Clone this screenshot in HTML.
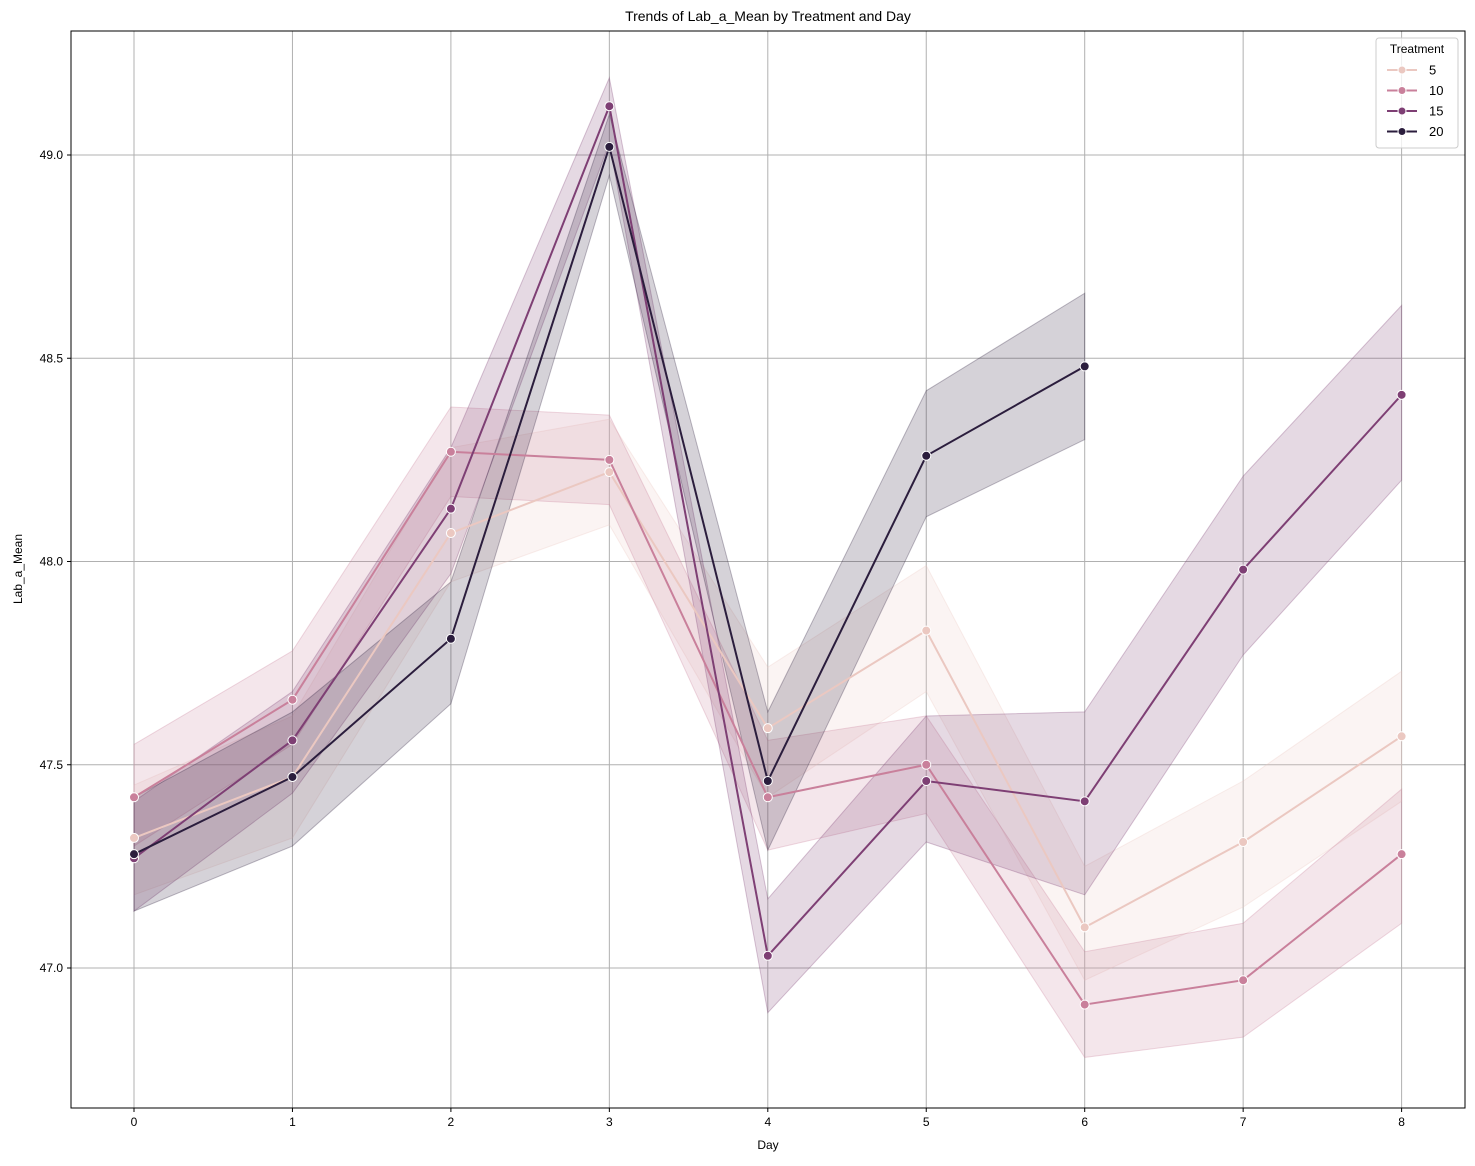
<!DOCTYPE html>
<html><head><meta charset="utf-8"><style>
body{margin:0;background:#fff;font-family:"Liberation Sans","DejaVu Sans",sans-serif}
</style></head><body>
<svg id="chart" width="1475" height="1161" xmlns="http://www.w3.org/2000/svg" font-family="Liberation Sans, DejaVu Sans, sans-serif">
<rect width="1475" height="1161" fill="#fff"/>
<text x="768" y="21" text-anchor="middle" font-size="14">Trends of Lab_a_Mean by Treatment and Day</text>
<g id="grid"></g>
<g id="bands"></g>
<g id="lines"></g>
<rect x="71" y="31" width="1394" height="1077" fill="none" stroke="#000" stroke-width="1"/>
<g id="ticks" font-size="12"></g>
<text x="768" y="1149" text-anchor="middle" font-size="12">Day</text>
<text transform="translate(22,569) rotate(-90)" text-anchor="middle" font-size="12">Lab_a_Mean</text>
<g id="legend"></g>
</svg>
<script>
const days=[0,1,2,3,4,5,6,7,8];
const yTicks=[47.0,47.5,48.0,48.5,49.0];
const treatments=["5","10","15","20"];
const colors=["#ebc8c1","#c9809b","#7e3f74","#2b1d3d"];
const mean5=[47.32,47.47,48.07,48.22,47.59,47.83,47.10,47.31,47.57];
const low5=[47.18,47.32,47.95,48.09,47.42,47.68,46.97,47.15,47.41];
const high5=[47.45,47.62,48.28,48.35,47.74,47.99,47.25,47.46,47.73];
const mean10=[47.42,47.66,48.27,48.25,47.42,47.50,46.91,46.97,47.28];
const low10=[47.30,47.55,48.16,48.14,47.29,47.38,46.78,46.83,47.11];
const high10=[47.55,47.78,48.38,48.36,47.56,47.62,47.04,47.11,47.44];
const mean15=[47.27,47.56,48.13,49.12,47.03,47.46,47.41,47.98,48.41];
const low15=[47.14,47.43,47.97,49.03,46.89,47.31,47.18,47.77,48.20];
const high15=[47.41,47.68,48.28,49.19,47.17,47.62,47.63,48.21,48.63];
const mean20=[47.28,47.47,47.81,49.02,47.46,48.26,48.48];
const low20=[47.14,47.30,47.65,48.95,47.29,48.11,48.30];
const high20=[47.42,47.63,47.95,49.10,47.63,48.42,48.66];
const means=[mean5,mean10,mean15,mean20],lows=[low5,low10,low15,low20],highs=[high5,high10,high15,high20];
const X=d=>134+d*158.45;
const Y=v=>968-(v-47)*406.5;
const NS="http://www.w3.org/2000/svg";
function mk(tag,attrs,parent){const e=document.createElementNS(NS,tag);for(const k in attrs)e.setAttribute(k,attrs[k]);parent.appendChild(e);return e;}
const grid=document.getElementById('grid'),ticks=document.getElementById('ticks');
days.forEach(d=>{
 const g=mk('line',{x1:X(d),x2:X(d),y1:31,y2:1108,stroke:'#b0b0b0','stroke-width':1},grid);
 
 
 mk('line',{x1:X(d),x2:X(d),y1:1108,y2:1112,stroke:'#000'},ticks);
 const t=mk('text',{x:X(d),y:1126,'text-anchor':'middle'},ticks);t.textContent=d;
 
 
});
yTicks.forEach(v=>{
 const g=mk('line',{x1:71,x2:1465,y1:Y(v),y2:Y(v),stroke:'#b0b0b0','stroke-width':1},grid);
 
 
 mk('line',{x1:67,x2:71,y1:Y(v),y2:Y(v),stroke:'#000'},ticks);
 const t=mk('text',{x:63,y:Y(v)+4,'text-anchor':'end'},ticks);t.textContent=v.toFixed(1);
 
 
});
const bands=document.getElementById('bands'),lines=document.getElementById('lines');
means.forEach((m,i)=>{
 const up=highs[i].map((v,j)=>X(j)+','+Y(v)),dn=lows[i].map((v,j)=>X(j)+','+Y(v)).reverse();
 const b=mk('polygon',{points:up.concat(dn).join(' '),fill:colors[i],'fill-opacity':0.2,stroke:colors[i],'stroke-opacity':0.3},bands);
 
 
});
means.forEach((m,i)=>{
 const l=mk('polyline',{points:m.map((v,j)=>X(j)+','+Y(v)).join(' '),fill:'none',stroke:colors[i],'stroke-width':2},lines);
 
 
 m.forEach((v,j)=>{
  const c=mk('circle',{cx:X(j),cy:Y(v),r:4.5,fill:colors[i],stroke:'#fff','stroke-width':1},lines);
  
  
 });
});
const lg=document.getElementById('legend');
mk('rect',{x:1376,y:38,width:82,height:110,rx:3,fill:'#fff','fill-opacity':0.8,stroke:'#ccc'},lg);
const lt=mk('text',{x:1417,y:53,'text-anchor':'middle','font-size':12},lg);lt.textContent='Treatment';
treatments.forEach((t,i)=>{
 const y=70+i*20.5;
 const e=mk('g',{},lg);
 
 
 mk('line',{x1:1387,x2:1417,y1:y,y2:y,stroke:colors[i],'stroke-width':2},e);
 mk('circle',{cx:1402,cy:y,r:4,fill:colors[i],stroke:'#fff'},e);
 const tx=mk('text',{x:1429,y:y+4.5,'font-size':13},e);tx.textContent=t;
});
</script>
</body></html>
